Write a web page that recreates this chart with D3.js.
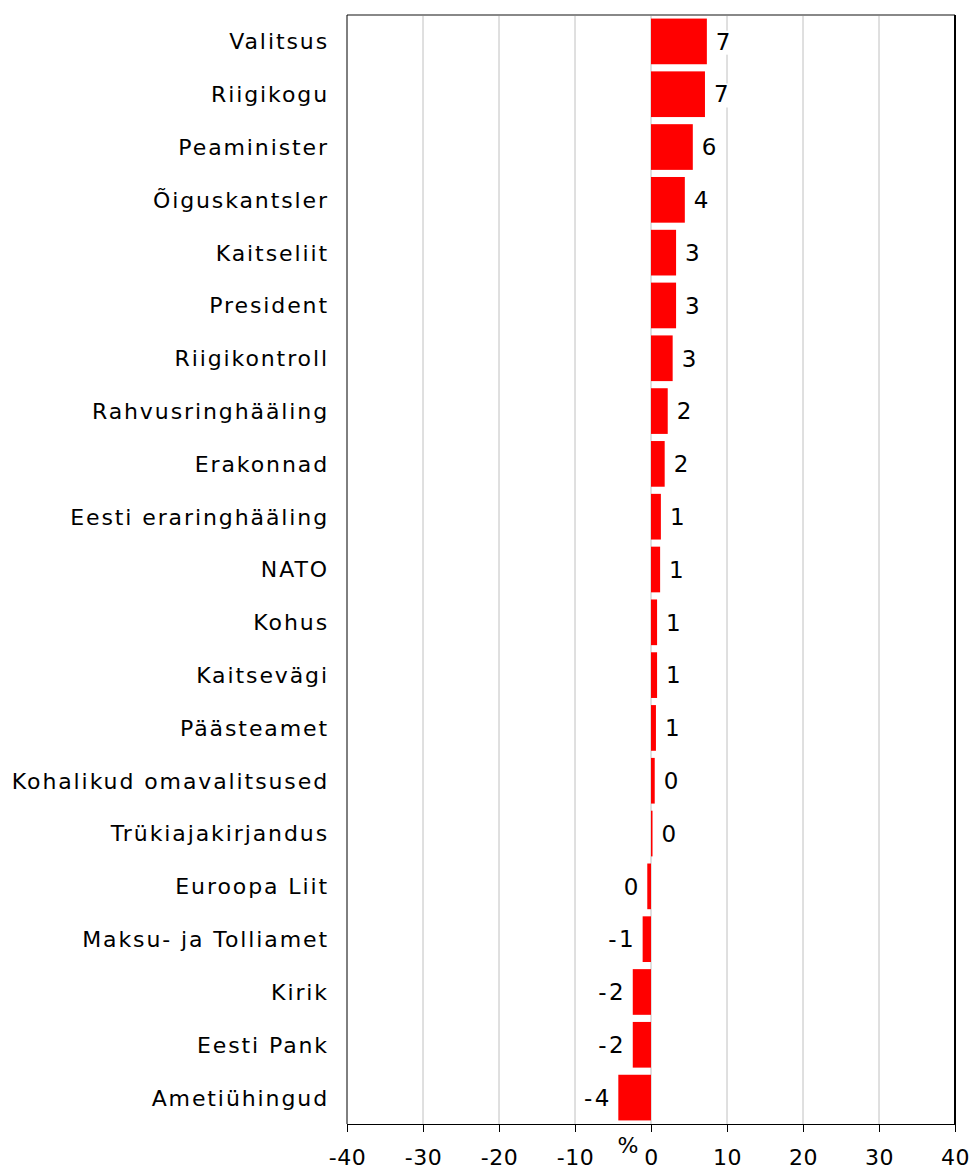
<!DOCTYPE html>
<html>
<head>
<meta charset="utf-8">
<script src="https://cdn.jsdelivr.net/npm/d3@7/dist/d3.min.js"></script>
<style>
  html, body { margin: 0; padding: 0; background: #fff; }
  #trust { width: 971px; height: 1169px; }
  text { font-family: "DejaVu Sans", Verdana, sans-serif; fill: #000; }
  .cat-label { font-size: 22px; letter-spacing: 1.9px; }
  .val-label { font-size: 23px; letter-spacing: 2.5px; }
  .x.axis text { font-size: 22px; letter-spacing: 0.5px; }
  .x.axis .domain, .x.axis line { stroke: #000; }
  .grid line { stroke: #c0c0c0; stroke-width: 1; }
</style>
</head>
<body>
<div id="trust"></div>
<script>
// data
const categories = [
  'Valitsus', 'Riigikogu', 'Peaminister', 'Õiguskantsler', 'Kaitseliit',
  'President', 'Riigikontroll', 'Rahvusringhääling', 'Erakonnad',
  'Eesti eraringhääling', 'NATO', 'Kohus', 'Kaitsevägi', 'Päästeamet',
  'Kohalikud omavalitsused', 'Trükiajakirjandus', 'Euroopa Liit',
  'Maksu- ja Tolliamet', 'Kirik', 'Eesti Pank', 'Ametiühingud'
];
const values = [
  7.35, 7.1, 5.5, 4.45, 3.3,
  3.3, 2.85, 2.2, 1.8,
  1.3, 1.2, 0.8, 0.8, 0.65,
  0.49, 0.2, -0.49,
  -1.1, -2.4, -2.4, -4.3
];
const xTicks = [-40, -30, -20, -10, 0, 10, 20, 30, 40];
const xDomain = [-40, 40];
const unitLabel = '%';

// constants
const containerSelector = '#trust';
const barColor = '#ff0000';
const labelGap = 9;

let width,
    height,
    xScale,
    yScale,
    margins = {
      top: 15,
      right: 16,
      bottom: 45,
      left: 347
    };

let $svg, $g;

function constructChart() {
  let data = categories.map((c, i) => ({ name: c, value: values[i] }));

  width = 971 - margins.left - margins.right;
  height = 1169 - margins.top - margins.bottom;

  xScale = d3.scaleLinear()
    .domain(xDomain)
    .range([0, width]);

  yScale = d3.scaleBand()
    .domain(categories)
    .range([0, height])
    .paddingInner(0.135)
    .paddingOuter(0.0675);

  $svg = d3.select(containerSelector).append('svg')
    .attr('width', 971)
    .attr('height', 1169);

  $g = $svg.append('g')
    .attr('transform', `translate(${margins.left}, ${margins.top})`);

  // gridlines
  $g.append('g')
    .classed('grid', true)
    .selectAll('line')
    .data(xTicks.slice(1, -1))
    .enter()
    .append('line')
    .attr('x1', d => xScale(d))
    .attr('x2', d => xScale(d))
    .attr('y1', 0)
    .attr('y2', height);

  // frame
  $g.append('line')
    .attr('x1', 0).attr('x2', width)
    .attr('y1', 0).attr('y2', 0)
    .style('stroke', '#888')
    .style('stroke-width', 2);
  $g.append('line')
    .attr('x1', 0).attr('x2', 0)
    .attr('y1', 0).attr('y2', height)
    .style('stroke', '#000');
  $g.append('line')
    .attr('x1', width).attr('x2', width)
    .attr('y1', 0).attr('y2', height)
    .style('stroke', '#000')
    .style('stroke-width', 2);

  // bars
  $g.selectAll('rect.bar')
    .data(data)
    .enter()
    .append('rect')
    .classed('bar', true)
    .attr('x', d => xScale(Math.min(0, d.value)))
    .attr('y', d => yScale(d.name))
    .attr('width', d => Math.abs(xScale(d.value) - xScale(0)))
    .attr('height', yScale.bandwidth())
    .style('fill', barColor);

  // value labels with white backing (they cut the gridlines)
  let $vals = $g.selectAll('g.val')
    .data(data)
    .enter()
    .append('g')
    .classed('val', true);

  $vals.append('text')
    .classed('val-label', true)
    .attr('x', d => d.value >= 0 ? xScale(d.value) + labelGap : xScale(d.value) - labelGap + 2.5)
    .attr('y', d => yScale(d.name) + yScale.bandwidth() / 2)
    .attr('dy', '0.36em')
    .attr('text-anchor', d => d.value >= 0 ? 'start' : 'end')
    .text(d => String(Math.round(d.value)));

  $vals.each(function() {
    let t = d3.select(this).select('text');
    let b = t.node().getBBox();
    d3.select(this).insert('rect', 'text')
      .attr('x', b.x - 1)
      .attr('y', b.y + 2)
      .attr('width', b.width + 2)
      .attr('height', b.height - 2)
      .style('fill', '#fff');
  });

  // category labels
  $g.selectAll('text.cat-label')
    .data(data)
    .enter()
    .append('text')
    .classed('cat-label', true)
    .attr('x', -18)
    .attr('y', d => yScale(d.name) + yScale.bandwidth() / 2)
    .attr('dy', '0.36em')
    .attr('text-anchor', 'end')
    .text(d => d.name);

  // x axis
  let xAxis = d3.axisBottom(xScale)
    .tickValues(xTicks)
    .tickSize(8)
    .tickSizeOuter(0)
    .tickPadding(17)
    .tickFormat(d => String(d));

  $g.append('g')
    .classed('x axis', true)
    .attr('transform', `translate(0, ${height})`)
    .call(xAxis)
    .call(g => g.selectAll('text').attr('dy', '0.71em'));

  $g.append('text')
    .attr('x', xScale(0) - 23)
    .attr('y', height + 29)
    .style('font-size', '22px')
    .attr('text-anchor', 'middle')
    .text(unitLabel);
}

constructChart();
</script>
</body>
</html>
